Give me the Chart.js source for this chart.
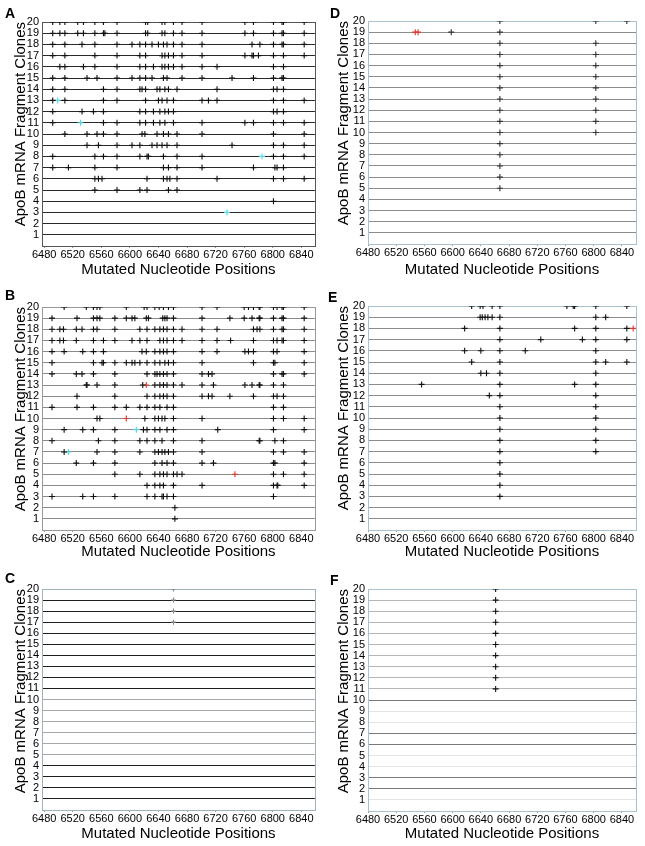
<!DOCTYPE html>
<html>
<head>
<meta charset="utf-8">
<script src="https://cdn.jsdelivr.net/npm/chart.js@4.4.0/dist/chart.umd.min.js"></script>
<style>
  html, body { margin: 0; padding: 0; background: #fff; }
  body { width: 645px; height: 846px; position: relative; overflow: hidden; font-family: "Liberation Sans", Arial, sans-serif; }
  canvas { position: absolute; }
  .tag { position: absolute; font-weight: bold; font-size: 14px; line-height: 14px; color: #000; }
</style>
</head>
<body>
<canvas id="chartA" width="320" height="282" style="left:0;top:0"></canvas>
<canvas id="chartB" width="320" height="282" style="left:0;top:282px"></canvas>
<canvas id="chartC" width="320" height="282" style="left:0;top:564px"></canvas>
<canvas id="chartD" width="325" height="282" style="left:320px;top:0"></canvas>
<canvas id="chartE" width="325" height="282" style="left:320px;top:282px"></canvas>
<canvas id="chartF" width="325" height="282" style="left:320px;top:564px"></canvas>
<div class="tag" style="left:5px;top:6px">A</div>
<div class="tag" style="left:5px;top:288px">B</div>
<div class="tag" style="left:5px;top:571px">C</div>
<div class="tag" style="left:330px;top:6px">D</div>
<div class="tag" style="left:328px;top:290px">E</div>
<div class="tag" style="left:330px;top:573px">F</div>
<script>
// tick labels
const xTicks = [6480, 6520, 6560, 6600, 6640, 6680, 6720, 6760, 6800, 6840];
const yTicks = [1, 2, 3, 4, 5, 6, 7, 8, 9, 10, 11, 12, 13, 14, 15, 16, 17, 18, 19, 20];

// mutated positions per clone, index 0 = clone 1
const clonesA = [
  [], [], [],
  [6801],
  [6551, 6582, 6614, 6624, 6654, 6666],
  [6551, 6556, 6561, 6624, 6647, 6652, 6656, 6666, 6722, 6801, 6815, 6844],
  [6492, 6514, 6551, 6582, 6647, 6654, 6666, 6701, 6773, 6803, 6806, 6815],
  [6492, 6551, 6563, 6582, 6614, 6624, 6626, 6647, 6666, 6701, 6801, 6815, 6844],
  [6540, 6556, 6582, 6603, 6614, 6631, 6638, 6645, 6652, 6666, 6743, 6801, 6815, 6844],
  [6509, 6540, 6554, 6563, 6582, 6617, 6621, 6638, 6647, 6654, 6666, 6701, 6801, 6844],
  [6492, 6563, 6582, 6614, 6622, 6633, 6642, 6649, 6661, 6701, 6761, 6773, 6801, 6815, 6844],
  [6492, 6533, 6549, 6563, 6614, 6622, 6633, 6642, 6649, 6654, 6661, 6801, 6806, 6815],
  [6492, 6509, 6563, 6582, 6622, 6640, 6645, 6652, 6661, 6701, 6710, 6722, 6801, 6815, 6844],
  [6492, 6509, 6563, 6582, 6614, 6617, 6622, 6638, 6642, 6649, 6654, 6666, 6722, 6801, 6806, 6815],
  [6492, 6509, 6540, 6554, 6582, 6603, 6614, 6622, 6631, 6647, 6652, 6673, 6701, 6743, 6773, 6801, 6813, 6815],
  [6502, 6509, 6535, 6551, 6582, 6614, 6622, 6633, 6645, 6649, 6654, 6661, 6673, 6701, 6722, 6801, 6815],
  [6492, 6509, 6551, 6582, 6614, 6622, 6645, 6649, 6654, 6661, 6673, 6701, 6761, 6771, 6773, 6780, 6801, 6815, 6844],
  [6492, 6509, 6533, 6551, 6582, 6603, 6614, 6622, 6631, 6640, 6647, 6652, 6661, 6673, 6701, 6771, 6782, 6801, 6813, 6815, 6844],
  [6492, 6502, 6509, 6527, 6535, 6551, 6563, 6565, 6582, 6622, 6625, 6645, 6649, 6661, 6673, 6701, 6761, 6773, 6801, 6813, 6815, 6844],
  [6492, 6502, 6509, 6527, 6535, 6551, 6563, 6582, 6622, 6625, 6645, 6649, 6661, 6673, 6701, 6761, 6773, 6801, 6813, 6815, 6844]
];
const cyanA = [[6499, 13], [6531, 11], [6785, 8], [6736, 3]];

const clonesB = [
  [6663],
  [6663],
  [6491, 6534, 6549, 6579, 6624, 6635, 6645, 6647, 6652, 6661, 6801],
  [6624, 6635, 6642, 6647, 6661, 6701, 6801, 6806, 6807, 6844],
  [6579, 6614, 6635, 6642, 6647, 6652, 6661, 6666, 6673, 6801, 6815, 6844],
  [6525, 6549, 6579, 6635, 6645, 6652, 6661, 6701, 6717, 6801, 6803, 6844],
  [6508, 6554, 6579, 6614, 6635, 6640, 6645, 6649, 6654, 6661, 6701, 6801, 6815, 6844],
  [6491, 6556, 6579, 6614, 6624, 6635, 6645, 6661, 6701, 6781, 6782, 6803, 6815],
  [6508, 6534, 6549, 6579, 6619, 6624, 6635, 6642, 6652, 6661, 6723, 6801, 6844],
  [6554, 6558, 6621, 6635, 6640, 6645, 6649, 6661, 6701, 6801, 6815, 6844],
  [6491, 6526, 6549, 6579, 6595, 6614, 6624, 6635, 6642, 6652, 6661, 6801, 6815],
  [6526, 6579, 6624, 6635, 6642, 6647, 6652, 6661, 6701, 6710, 6715, 6740, 6773, 6801, 6806, 6815],
  [6539, 6540, 6554, 6579, 6618, 6635, 6642, 6647, 6652, 6661, 6673, 6701, 6717, 6761, 6771, 6781, 6782, 6801, 6815],
  [6491, 6525, 6533, 6549, 6579, 6624, 6635, 6638, 6642, 6647, 6652, 6661, 6701, 6710, 6715, 6801, 6813, 6815, 6844],
  [6491, 6549, 6561, 6563, 6579, 6595, 6603, 6607, 6614, 6624, 6635, 6642, 6649, 6654, 6661, 6701, 6773, 6801, 6803, 6844],
  [6491, 6508, 6534, 6549, 6563, 6617, 6623, 6635, 6642, 6647, 6652, 6661, 6701, 6722, 6761, 6766, 6773, 6801, 6806, 6844],
  [6491, 6502, 6507, 6525, 6549, 6563, 6579, 6603, 6614, 6624, 6642, 6647, 6652, 6661, 6673, 6701, 6722, 6741, 6773, 6801, 6806, 6813, 6815, 6844],
  [6491, 6502, 6507, 6525, 6533, 6549, 6554, 6579, 6614, 6624, 6635, 6642, 6647, 6652, 6661, 6673, 6701, 6722, 6773, 6778, 6782, 6801, 6813, 6815, 6844],
  [6491, 6526, 6549, 6554, 6558, 6579, 6595, 6603, 6607, 6623, 6626, 6646, 6649, 6652, 6661, 6701, 6740, 6760, 6771, 6781, 6782, 6801, 6813, 6815, 6844],
  [6508, 6539, 6549, 6554, 6558, 6595, 6620, 6624, 6635, 6641, 6647, 6654, 6661, 6701, 6722, 6760, 6766, 6773, 6781, 6782, 6801, 6806, 6813, 6815, 6844]
];
const redB = [[6623, 13], [6595, 10], [6747, 5]];
const cyanB = [[6609, 9], [6514, 7]];

const clonesC = [
  [], [], [], [], [], [], [], [], [], [], [], [], [], [], [], [],
  [6661], [6661], [6661], [6661]
];

const clonesD = [
  [], [], [], [],
  [6667], [6667], [6667], [6667], [6667],
  [6667, 6803], [6667, 6803], [6667, 6803], [6667, 6803], [6667, 6803],
  [6667, 6803], [6667, 6803], [6667, 6803], [6667, 6803],
  [6598, 6667],
  [6667, 6803, 6847]
];
const redD = [[6547, 19], [6551, 19]];

const clonesE = [
  [], [],
  [6667], [6667], [6667], [6667],
  [6667, 6803], [6667, 6803], [6667, 6803], [6667, 6803], [6667, 6803],
  [6652, 6667, 6803],
  [6556, 6667, 6773, 6803],
  [6640, 6648, 6667, 6803],
  [6627, 6667, 6803, 6817, 6847],
  [6617, 6640, 6667, 6703, 6803],
  [6667, 6725, 6784, 6803, 6847],
  [6617, 6667, 6773, 6803, 6847],
  [6639, 6642, 6646, 6650, 6656, 6667, 6803, 6817],
  [6627, 6639, 6643, 6656, 6667, 6762, 6771, 6773, 6803, 6847]
];
const redE = [[6856, 18]];

const clonesF = [
  [], [], [], [], [], [], [], [], [], [],
  [6661], [6661], [6661], [6661], [6661], [6661], [6661], [6661], [6661], [6661]
];

Chart.defaults.font.family = '"Liberation Sans", Arial, sans-serif';
Chart.defaults.color = '#000';

const CYAN = '#52d6e2';
const RED = '#e2342c';

function toPoints(rows) {
  return rows.flatMap((xs, i) => xs.map(x => ({ x: x, y: i + 1 })));
}
function pairs(list) {
  return list.map(p => ({ x: p[0], y: p[1] }));
}
function marks(data, color, radius) {
  return { data: data, pointStyle: 'cross', pointRadius: radius, borderColor: color, borderWidth: 1.1 };
}

const framePlugin = {
  id: 'frame',
  beforeDatasetsDraw(chart, args, opts) {
    const a = chart.chartArea, c = chart.ctx;
    c.save();
    c.strokeStyle = opts.color;
    c.lineWidth = 1;
    c.strokeRect(Math.round(a.left) + 0.5, Math.round(a.top) + 0.5, Math.round(a.right - a.left), Math.round(a.bottom - a.top));
    c.restore();
  }
};

function drawPanel(id, sets, look) {
  const canvas = document.getElementById(id);
  const H = canvas.height;
  new Chart(canvas, {
    type: 'scatter',
    data: { datasets: sets },
    options: {
      responsive: false,
      animation: false,
      events: [],
      layout: { padding: { top: look.top, right: look.right, left: 0, bottom: 0 } },
      plugins: { legend: { display: false }, tooltip: { enabled: false }, frame: { color: look.frame } },
      scales: {
        x: {
          type: 'linear',
          min: look.xMin,
          max: look.xMax,
          afterBuildTicks: s => { s.ticks = xTicks.map(v => ({ value: v })); },
          afterFit: s => { s.height = H - look.bottom; },
          grid: { drawOnChartArea: false, drawTicks: true, tickLength: 2, color: '#999' },
          border: { display: false },
          ticks: { font: { size: 11 }, color: '#000', padding: 0, maxRotation: 0, autoSkip: false, callback: v => String(v) },
          title: { display: true, text: 'Mutated Nucleotide Positions', font: { size: 15 }, color: '#000', padding: { top: 0, bottom: 3 } }
        },
        y: {
          min: 0,
          max: 20,
          afterBuildTicks: s => { s.ticks = yTicks.map(v => ({ value: v })); },
          afterFit: s => { s.width = look.yWidth; },
          grid: { drawTicks: false, lineWidth: 1, color: c => look.grid(c.tick.value) },
          border: { display: false },
          ticks: { font: { size: 11 }, color: '#000', padding: 3, autoSkip: false },
          title: { display: true, text: 'ApoB mRNA Fragment Clones', align: 'end', font: { size: 15 }, color: '#000', padding: { top: look.titlePad, bottom: 0 } }
        }
      }
    },
    plugins: [framePlugin]
  });
}

const leftCol = { xMin: 6477, xMax: 6859, yWidth: 42, right: 5, titlePad: 12 };
const rightCol = { xMin: 6480, xMax: 6860, yWidth: 48, right: 9, titlePad: 15 };

drawPanel('chartA', [
  marks(toPoints(clonesA), '#111', 3),
  marks(pairs(cyanA), CYAN, 3)
], Object.assign({}, leftCol, { top: 22, bottom: 246, frame: '#555', grid: v => '#2a2a2a' }));

drawPanel('chartB', [
  marks(toPoints(clonesB), '#111', 3),
  marks(pairs(redB), RED, 3),
  marks(pairs(cyanB), CYAN, 3)
], Object.assign({}, leftCol, { top: 25, bottom: 248, frame: '#999', grid: v => '#8a8a8a' }));

drawPanel('chartC', [
  marks(toPoints(clonesC), '#888', 2.5)
], Object.assign({}, leftCol, { top: 25, bottom: 246, frame: '#9fb2bc', grid: v => (v >= 5 && v <= 10) ? '#a8a8a8' : (v === 20 ? '#9fb2bc' : '#1e1e1e') }));

drawPanel('chartD', [
  marks(toPoints(clonesD), '#333', 3),
  marks(pairs(redD), RED, 3)
], Object.assign({}, rightCol, { top: 21, bottom: 244, frame: '#a9c2ce', grid: v => v === 20 ? '#a9c2ce' : '#8c8c8c' }));

drawPanel('chartE', [
  marks(toPoints(clonesE), '#111', 3),
  marks(pairs(redE), RED, 3)
], Object.assign({}, rightCol, { top: 24, bottom: 248, frame: '#a9c2ce', grid: v => v === 20 ? '#a9c2ce' : '#8c8c8c' }));

drawPanel('chartF', [
  marks(toPoints(clonesF), '#111', 3)
], Object.assign({}, rightCol, { top: 25, bottom: 247, frame: '#a9c2ce', grid: v => [2, 3, 6, 7, 10].includes(v) ? '#7a7a7a' : (v >= 11 && v <= 19 ? '#b5b5b5' : '#e4e4e4') }));
</script>
</body>
</html>
